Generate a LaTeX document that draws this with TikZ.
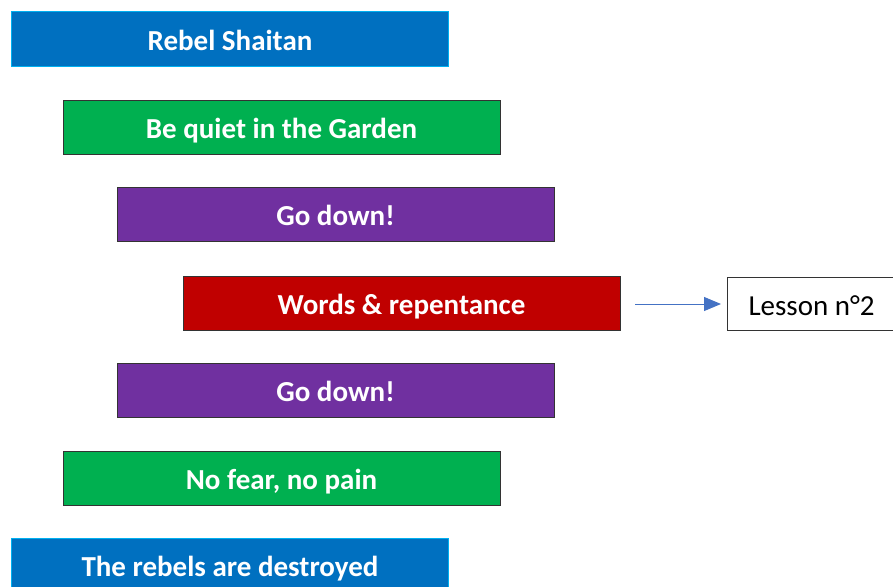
\documentclass[tikz,border=0pt]{standalone}
\usepackage{fontspec}
\setmainfont{Carlito}
\usetikzlibrary{arrows.meta}
\definecolor{cblue}{HTML}{0070C0}
\definecolor{cblueb}{HTML}{00B0F0}
\definecolor{cgreen}{HTML}{00B050}
\definecolor{cpurple}{HTML}{7030A0}
\definecolor{cred}{HTML}{C00000}
\definecolor{carrow}{HTML}{4472C4}
\begin{document}
\begin{tikzpicture}[x=1pt,y=-1pt,
  bar/.style={draw=black!80, line width=1pt, minimum width=437pt, minimum height=54pt, inner sep=0pt, text height=23pt, text depth=0pt, text=white, font=\fontsize{29}{34}\selectfont\bfseries},
  lesson/.style={draw=black!80, line width=1pt, minimum height=53pt, inner xsep=21pt, inner ysep=0pt, text height=23pt, text depth=0pt, font=\fontsize{29}{34}\selectfont},
  conn/.style={draw=carrow, line width=1pt, -{Triangle[length=17pt,width=14pt]}}]
\useasboundingbox (0,0) rectangle (893,586);
\clip (0,0) rectangle (893,586);
\node[bar, fill=cblue, draw=cblueb] (b1) at (230,39) {Rebel Shaitan};
\node[bar, fill=cgreen] (b2) at (281.5,127) {Be quiet in the Garden};
\node[bar, fill=cpurple] (b3) at (335.5,214) {Go down!};
\node[bar, fill=cred] (b4) at (401.5,303) {Words \& repentance};
\node[bar, fill=cpurple] (b5) at (335.5,390) {Go down!};
\node[bar, fill=cgreen] (b6) at (281.5,478) {No fear, no pain};
\node[bar, fill=cblue, draw=cblueb] (b7) at (230,565) {The rebels are destroyed};
\node[lesson, anchor=west] (l) at (727,303.5) {Lesson n°2};
\coordinate (a0) at (635,304);
\draw[conn] (a0) -- ([xshift=-6pt]l.west |- a0);
\end{tikzpicture}
\end{document}
